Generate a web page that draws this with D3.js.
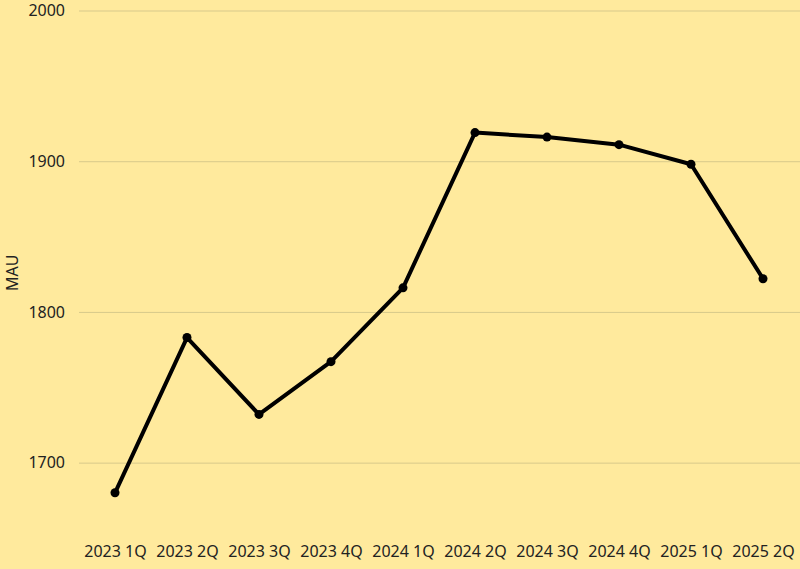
<!DOCTYPE html>
<html>
<head>
<meta charset="utf-8">
<script src="https://cdn.jsdelivr.net/npm/d3@7"></script>
<style>
  body { margin: 0; background: #FFEA9D; }
  svg { display: block; font-family: "Noto Sans", sans-serif; }
</style>
</head>
<body>
<svg width="800" height="569"></svg>
<script>
// quarters along the x axis
var quarters = ["2023 1Q", "2023 2Q", "2023 3Q", "2023 4Q", "2024 1Q",
                "2024 2Q", "2024 3Q", "2024 4Q", "2025 1Q", "2025 2Q"];
// monthly active users per quarter
var mau = [1680, 1783, 1732, 1767, 1816, 1919, 1916, 1911, 1898, 1822];
var yTicks = [1700, 1800, 1900, 2000];

var svg = d3.select("svg"),
    width = +svg.attr("width"),
    height = +svg.attr("height");

var margin = {left: 79, right: 1, top: 10.5};

var x = d3.scalePoint()
    .domain(quarters)
    .range([margin.left, width - margin.right])
    .padding(0.5);

var y = d3.scaleLinear()
    .domain([1650, 2000])
    .range([538, margin.top]);

svg.append("rect")
    .attr("width", width)
    .attr("height", height)
    .attr("fill", "#FFEA9D");

// gridlines + y labels
var yAxis = d3.axisLeft(y)
    .tickValues(yTicks)
    .tickFormat(d3.format("d"))
    .tickSize(-(width - margin.left))
    .tickPadding(14);

var gy = svg.append("g")
    .attr("transform", "translate(" + margin.left + ",0)")
    .call(yAxis);
gy.select(".domain").remove();
gy.selectAll("line").attr("stroke", "#D8C98B").attr("stroke-width", 1);
gy.selectAll("text")
    .attr("fill", "#222")
    .attr("font-size", 16)
    .attr("font-family", "Noto Sans");

// x labels
var xAxis = d3.axisBottom(x).tickSize(0).tickPadding(8);
var gx = svg.append("g")
    .attr("transform", "translate(0,538)")
    .call(xAxis);
gx.select(".domain").remove();
gx.selectAll("text")
    .attr("fill", "#222")
    .attr("font-size", 16)
    .attr("font-family", "Noto Sans");

// axis title
svg.append("text")
    .attr("text-anchor", "middle")
    .attr("transform", "translate(18," + y(1826) + ")rotate(-90)")
    .attr("font-size", 16)
    .attr("fill", "#222")
    .text("MAU");

var line = d3.line()
    .x(function(d, i) { return x(quarters[i]); })
    .y(function(d) { return y(d); });

svg.append("path")
    .datum(mau)
    .attr("fill", "none")
    .attr("stroke", "#000")
    .attr("stroke-width", 4)
    .attr("stroke-linejoin", "round")
    .attr("d", line);

svg.selectAll("circle.pt")
    .data(mau)
    .enter()
    .append("circle")
    .attr("class", "pt")
    .attr("cx", function(d, i) { return x(quarters[i]); })
    .attr("cy", function(d) { return y(d); })
    .attr("r", 4.5)
    .attr("fill", "#000");
</script>
</body>
</html>
